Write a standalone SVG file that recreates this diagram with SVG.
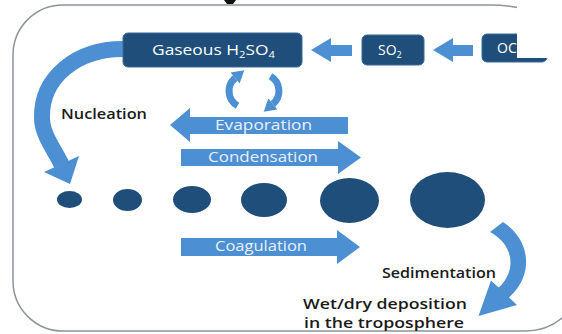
<svg xmlns="http://www.w3.org/2000/svg" width="562" height="334" viewBox="0 0 562 334">
<style>
.box{fill:#1f4e7a;stroke:#3a6a98;stroke-width:1}
.drop{fill:#1f4e7a}
.arr{fill:#4d8fd3}
.band{fill:none;stroke:#4d8fd3;stroke-width:16}
.cyc{fill:none;stroke:#4d8fd3;stroke-width:7}
.bt{font-family:"Open Sans","Liberation Sans",sans-serif;font-size:14px;fill:#ffffff}
.at{font-family:"Open Sans","Liberation Sans",sans-serif;font-size:15px;fill:#e8f0f8}
.lt{font-family:"Open Sans","Liberation Sans",sans-serif;font-size:15px;font-weight:600;fill:#1a1a1a}
.lt2{font-family:"Open Sans","Liberation Sans",sans-serif;font-size:14px;font-weight:600;fill:#1a1a1a}
</style>
<rect width="562" height="334" fill="#ffffff"/>
<path d="M13,55 A50,50 0 0 1 63,5 H490 A90,50 0 0 1 580,55 V281 A55,50 0 0 1 525,331 H63 A50,50 0 0 1 13,281 Z" fill="none" stroke="#8d949c" stroke-width="1.5"/>
<path d="M224,0 H236 L233,4 H227 Z" fill="#111111"/>
<g id="connectors">
<path class="band" d="M123,49 C76,49 41,78 42,118 C42,135 55.4,150.9 61.5,164.5"/>
<polygon class="arr" points="44,172 79,156 70,184"/>
<polygon class="arr" points="311,50 331,38 331,45 352,45 352,56 331,56 331,62"/>
<polygon class="arr" points="433,50 453,38 453,45 473,45 473,56 453,56 453,62"/>
<path class="cyc" d="M237.5,105.7 A17,17 0 0 1 235.1,78"/>
<polygon class="arr" points="244.3,70.3 239.6,83.4 230.6,72.6"/>
<path class="cyc" d="M270.5,76.3 A17,17 0 0 1 272.9,104"/>
<polygon class="arr" points="263.7,111.7 277.4,109.4 268.4,98.6"/>
<polygon class="arr" points="170,125 190,108 190,117 348,117 348,134 190,134 190,142"/>
<polygon class="arr" points="181,149 338,149 338,141 361,157.5 338,174 338,166 181,166"/>
<polygon class="arr" points="181,238 337,238 337,230 360,247 337,264 337,256 181,256"/>
<path class="arr" d="M503,222 A58,50 0 0 1 509,297.4 L517,305 L478.5,316 L491,280.4 L498.6,287.5 A43,36 0 0 0 490,232 Z"/>
</g>
<g id="h2so4">
<rect class="box" x="123" y="33" width="179" height="34" rx="5"/>
<text class="bt" x="152" y="55" textLength="123" lengthAdjust="spacingAndGlyphs">Gaseous H<tspan font-size="9" dy="3">2</tspan><tspan dy="-3">SO</tspan><tspan font-size="9" dy="3">4</tspan></text>
</g>
<g id="so2">
<rect class="box" x="362" y="35" width="62" height="30" rx="5"/>
<text class="bt" x="378" y="55">SO<tspan font-size="9" dy="3">2</tspan></text>
</g>
<g id="oc">
<rect class="box" x="482" y="34" width="65" height="28" rx="5"/>
<text class="bt" x="497" y="53">OC</text>
<rect x="517" y="0" width="45" height="58" fill="#ffffff"/>
</g>
<g id="particles">
<ellipse class="drop" cx="69.5" cy="199.5" rx="12.5" ry="8.5"/>
<ellipse class="drop" cx="127.5" cy="200" rx="14.5" ry="11"/>
<ellipse class="drop" cx="192" cy="199.5" rx="19" ry="13.5"/>
<ellipse class="drop" cx="264" cy="200" rx="23" ry="17"/>
<ellipse class="drop" cx="349.5" cy="200.5" rx="29.5" ry="22.5"/>
<ellipse class="drop" cx="447.5" cy="200" rx="37.5" ry="28"/>
</g>
<g id="labels">
<text class="at" x="215" y="130" textLength="97" lengthAdjust="spacingAndGlyphs">Evaporation</text>
<text class="at" x="208" y="162" textLength="110" lengthAdjust="spacingAndGlyphs">Condensation</text>
<text class="at" x="215" y="251" textLength="92" lengthAdjust="spacingAndGlyphs">Coagulation</text>
<text class="lt" x="61" y="119" textLength="86" lengthAdjust="spacingAndGlyphs">Nucleation</text>
<text class="lt" x="382" y="278" textLength="114" lengthAdjust="spacingAndGlyphs">Sedimentation</text>
<text class="lt2" x="303" y="309" textLength="164" lengthAdjust="spacingAndGlyphs">Wet/dry deposition</text>
<text class="lt2" x="304" y="328" textLength="160" lengthAdjust="spacingAndGlyphs">in the troposphere</text>
</g>
</svg>
